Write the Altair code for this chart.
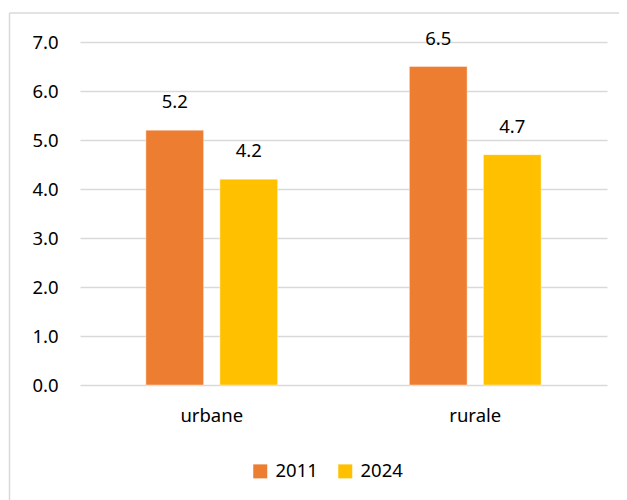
import altair as alt
import pandas as pd

categories = ["urbane", "rurale"]
years = ["2011", "2024"]
values_2011 = [5.2, 6.5]
values_2024 = [4.2, 4.7]
y_ticks = [0, 1, 2, 3, 4, 5, 6, 7]
colors = ["#ED7D31", "#FFC000"]

rows = []
for i, c in enumerate(categories):
    rows.append({"cat": c, "year": years[0], "val": values_2011[i]})
    rows.append({"cat": c, "year": years[1], "val": values_2024[i]})
df = pd.DataFrame(rows)

FONT = "Noto Sans"
FS = 18.5

x = alt.X("cat:N", sort=categories, title=None,
          scale=alt.Scale(paddingInner=0.5, paddingOuter=0.25),
          axis=alt.Axis(labelAngle=0, labelFont=FONT, labelFontSize=FS,
                        labelColor="#000000", labelPadding=21,
                        ticks=False, domain=False, grid=False))
xo = alt.XOffset("year:N", sort=years,
                 scale=alt.Scale(paddingInner=0.22, paddingOuter=0))
y = alt.Y("val:Q", title=None,
          scale=alt.Scale(domain=[0, 7], nice=False),
          axis=alt.Axis(values=y_ticks, format=".1f", labelFont=FONT,
                        labelFontSize=FS, labelColor="#000000",
                        labelPadding=22, ticks=False, domain=False,
                        gridColor="#D9D9D9", gridWidth=1.3))

bars = alt.Chart(df).mark_bar(stroke="#FFFFFF", strokeOpacity=0.4, strokeWidth=1).encode(
    x=x, xOffset=xo, y=y,
    color=alt.Color("year:N", sort=years,
                    scale=alt.Scale(domain=years, range=colors),
                    legend=alt.Legend(title=None, orient="none", direction="horizontal",
                                      legendX=171, legendY=420,
                                      symbolType="square", symbolSize=196,
                                      symbolStrokeWidth=0, labelFont=FONT,
                                      labelFontSize=FS, labelColor="#000000",
                                      labelOffset=6, columnPadding=18, padding=0)),
)

labels = alt.Chart(df).mark_text(dy=-18, baseline="bottom", font=FONT,
                                 fontSize=FS, color="#000000").encode(
    x=alt.X("cat:N", sort=categories), xOffset=alt.XOffset("year:N", sort=years),
    y="val:Q",
    text=alt.Text("val:Q", format=".1f"),
)

# decorative frame of the chart box (outside the plot area)
frame_df = pd.DataFrame({"k": [0]})
frame_left = alt.Chart(frame_df).mark_rule(color="#D9D9D9", strokeWidth=1.5).encode(
    x=alt.value(-70.5), y=alt.value(-29), y2=alt.value(470))
frame_top = alt.Chart(frame_df).mark_rule(color="#D9D9D9", strokeWidth=1.5).encode(
    x=alt.value(-70.5), x2=alt.value(547), y=alt.value(-29))

chart = alt.layer(frame_left, frame_top, bars, labels).properties(
    width=527, height=343,
    autosize=alt.AutoSizeParams(type="none"),
    padding={"left": 72, "top": 34, "right": 12, "bottom": 115},
    background="#FFFFFF",
).configure_view(stroke=None)

chart.save("out.html", embed_options={"renderer": "svg", "actions": False})
